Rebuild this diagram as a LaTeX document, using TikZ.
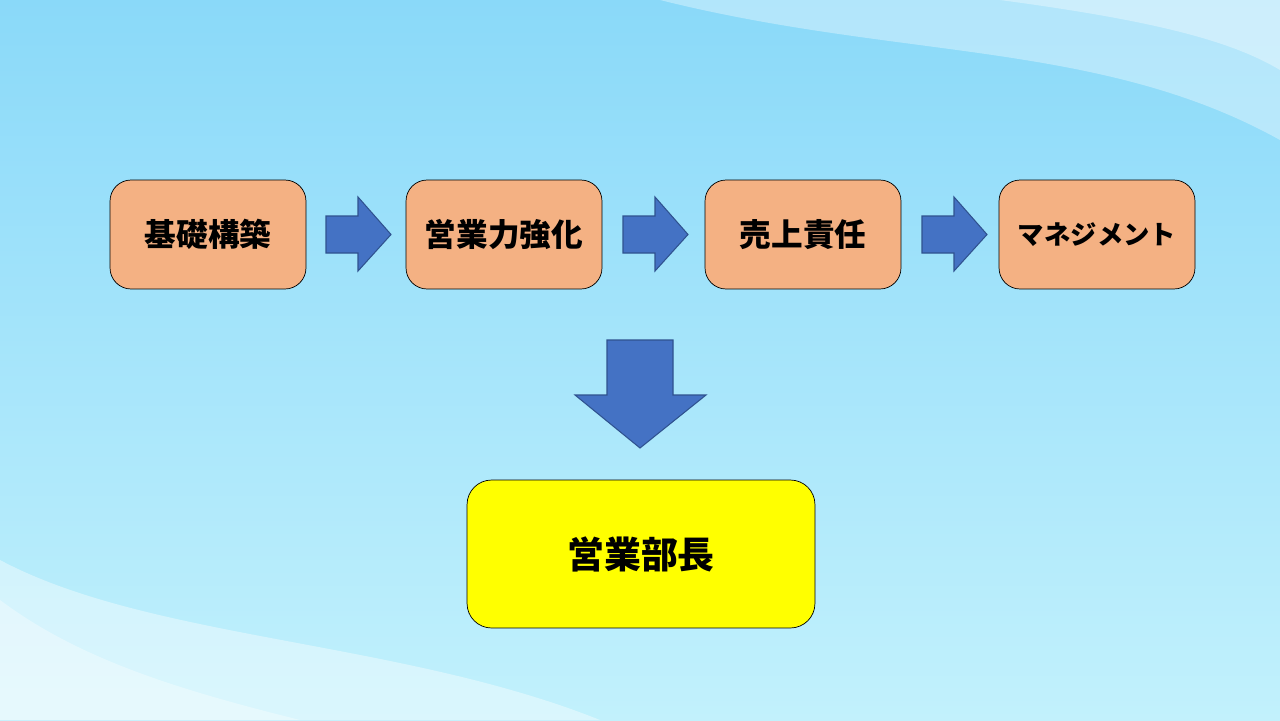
\documentclass[tikz,border=0pt]{standalone}
\usepackage{fontspec}
\setmainfont{Noto Sans CJK JP}
\usetikzlibrary{positioning}
\definecolor{stepfill}{HTML}{F4B183}
\definecolor{goalfill}{HTML}{FFFF00}
\definecolor{arrowfill}{HTML}{4472C4}
\definecolor{arrowline}{HTML}{2F528F}
\definecolor{bgtop}{HTML}{8AD9F9}
\definecolor{bgbot}{HTML}{C2F1FC}
\tikzset{
  stepbox/.style={draw, rounded corners=12pt, fill=stepfill, minimum width=3.92cm, minimum height=2.18cm, font=\bfseries\fontsize{18}{20}\selectfont},
  goalbox/.style={draw, rounded corners=14pt, fill=goalfill, minimum width=6.96cm, minimum height=2.96cm, font=\bfseries\fontsize{21}{23}\selectfont},
  blockarrow/.style={fill=arrowfill, draw=arrowline, line width=0.6pt}
}
\begin{document}
\begin{tikzpicture}[x=0.02cm,y=-0.02cm]
\shade[top color=bgtop, bottom color=bgbot] (0,0) rectangle (1280,720);
\useasboundingbox (0,0) rectangle (1280,720);
% waves
\fill[white, opacity=0.35] (660,0) .. controls (900,60) and (1100,40) .. (1280,140) -- (1280,0) -- cycle;
\fill[white, opacity=0.35] (1000,0) .. controls (1150,20) and (1230,40) .. (1280,70) -- (1280,0) -- cycle;
\fill[white, opacity=0.4] (0,560) .. controls (150,640) and (400,640) .. (600,720) -- (0,720) -- cycle;
\fill[white, opacity=0.35] (0,600) .. controls (80,660) and (180,690) .. (300,720) -- (0,720) -- cycle;

\node[stepbox] (A) at (208,234.5) {基礎構築};
\node[stepbox] (B) at (504,234.5) {営業力強化};
\node[stepbox] (C) at (803,234.5) {売上責任};
\node[stepbox, font=\bfseries\fontsize{15}{18}\selectfont] (D) at (1097,234.5) {マネジメント};

\node[goalbox] (G) at (641,554) {営業部長};

% right arrows
\foreach \x in {326,623,922}{
  \draw[blockarrow] (\x,216) -- (\x+32,216) -- (\x+32,197) -- (\x+65,234.5) -- (\x+32,271) -- (\x+32,253) -- (\x,253) -- cycle;
}
% down arrow
\draw[blockarrow] (607,340) -- (673,340) -- (673,395) -- (706,395) -- (640,448) -- (575,395) -- (607,395) -- cycle;
\end{tikzpicture}
\end{document}
